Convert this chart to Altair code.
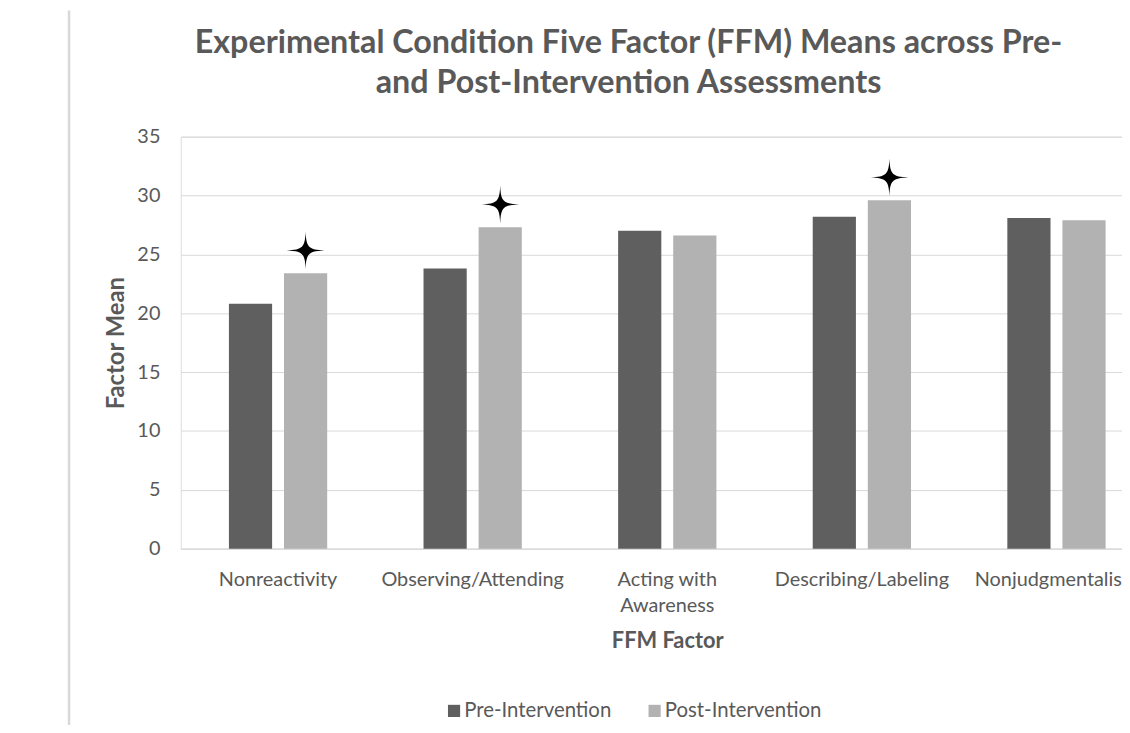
import altair as alt
import pandas as pd

factors = ["Nonreactivity", "Observing/Attending", "Acting with Awareness",
           "Describing/Labeling", "Nonjudgmentalism"]
series = ["Pre-Intervention", "Post-Intervention"]
pre_values = [20.8, 23.8, 27.0, 28.2, 28.1]
post_values = [23.4, 27.3, 26.6, 29.6, 27.9]
significant = [True, True, False, True, False]
y_ticks = [0, 5, 10, 15, 20, 25, 30, 35]
title_lines = ["Experimental Condition Five Factor (FFM) Means across Pre-",
               "and Post-Intervention Assessments"]

rows = []
for f, a, b, s in zip(factors, pre_values, post_values, significant):
    rows.append({"factor": f, "series": series[0], "value": a, "sig": s})
    rows.append({"factor": f, "series": series[1], "value": b, "sig": s})
df = pd.DataFrame(rows)

FONT = "Lato"
GREY = "#595959"
STAR = ("M0,-1 C0.03,-0.16 0.16,-0.03 1,0 C0.16,0.03 0.03,0.16 0,1 "
        "C-0.03,0.16 -0.16,0.03 -1,0 C-0.16,-0.03 -0.03,-0.16 0,-1 Z")

x_enc = alt.X("factor:N", sort=factors,
              scale=alt.Scale(range=[0, 980], paddingInner=0.495, paddingOuter=0.2475),
              axis=alt.Axis(title="FFM Factor", labelAngle=0, labelFontSize=20,
                            labelColor=GREY, labelFont=FONT, labelPadding=21,
                            labelLineHeight=26, labelOverlap=False, labelBound=False,
                            labelFlush=False, labelLimit=400, ticks=False,
                            domainColor="#d9d9d9",
                            labelExpr="datum.label == 'Acting with Awareness' ? ['Acting with', 'Awareness'] : datum.label",
                            titleFont=FONT, titleFontSize=22, titleFontWeight="bold",
                            titleColor=GREY, titleX=490, titleY=93,
                            titleBaseline="middle", titleAnchor="middle"))
xo_enc = alt.XOffset("series:N", sort=series,
                     scale=alt.Scale(paddingInner=0.216, paddingOuter=0))
y_enc = alt.Y("value:Q", scale=alt.Scale(domain=[0, 35], nice=False),
              axis=alt.Axis(title="Factor Mean", values=y_ticks, labelFontSize=20,
                            labelColor=GREY, labelFont=FONT, labelPadding=21,
                            ticks=False, domain=False, gridColor="#d9d9d9",
                            titleFont=FONT, titleFontSize=24, titleFontWeight="bold",
                            titleColor=GREY, titleX=-65, titleY=207.5,
                            titleAngle=-90, titleBaseline="middle", titleAnchor="middle"))

bars = alt.Chart(df).mark_bar().encode(
    x=x_enc, xOffset=xo_enc, y=y_enc,
    color=alt.Color("series:N", sort=series,
                    scale=alt.Scale(domain=series, range=["#5f5f5f", "#b2b2b2"]),
                    legend=alt.Legend(title=None, orient="none", direction="horizontal",
                                      legendX=265, legendY=568, symbolType="square",
                                      symbolSize=150, symbolStrokeWidth=0,
                                      labelFontSize=20.5, labelColor=GREY, labelFont=FONT,
                                      labelOffset=0, columnPadding=33, labelLimit=400)),
)

stars = alt.Chart(df).transform_filter(
    "datum.sig && datum.series == 'Post-Intervention'"
).mark_point(shape=STAR, filled=True, color="black", size=1450, opacity=1,
             strokeWidth=0, yOffset=-23).encode(
    x=alt.X("factor:N", sort=factors), xOffset=alt.XOffset("series:N", sort=series), y="value:Q"
)

border = alt.Chart(pd.DataFrame({"a": [0]})).mark_rule(color="#d9d9d9", strokeWidth=2.5).encode(
    x=alt.value(-112.5), y=alt.value(-127), y2=alt.value(600)
)

chart = alt.layer(border, bars, stars).properties(
    width=948, height=415,
    title=alt.TitleParams(text=title_lines, font=FONT, fontSize=32.5, fontWeight="bold",
                          color=GREY, anchor="middle", frame="group", dx=-23, dy=91,
                          lineHeight=40, offset=0),
    autosize=alt.AutoSizeParams(type="none"),
    padding={"left": 174, "top": 127, "right": 0, "bottom": 175},
).configure_view(stroke=None).configure(background="white")

chart.save("out.html", embed_options={"renderer": "svg", "actions": False})
